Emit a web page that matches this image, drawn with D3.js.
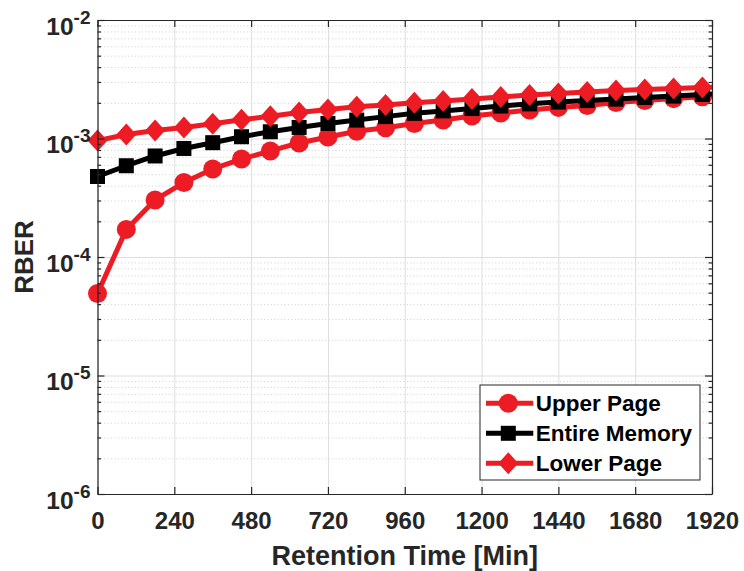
<!DOCTYPE html>
<html>
<head>
<meta charset="utf-8">
<script src="https://cdn.jsdelivr.net/npm/d3@7"></script>
<style>
  body { margin: 0; background: #fff; }
  svg { display: block; }
  text { font-family: "Liberation Sans", Arial, Helvetica, sans-serif; font-weight: bold; }
</style>
</head>
<body>
<svg id="chart" width="744" height="571"></svg>
<script>
// Retention time (minutes) at which RBER was sampled
const retentionMin = [0, 90, 180, 270, 360, 450, 540, 630, 720, 810, 900, 990,
  1080, 1170, 1260, 1350, 1440, 1530, 1620, 1710, 1800, 1890, 1980];

// Raw bit error rate per page type
const upperPage = [4.92e-5, 1.71e-4, 3.03e-4, 4.25e-4, 5.53e-4, 6.71e-4, 7.85e-4, 9.17e-4,
  1.03e-3, 1.15e-3, 1.23e-3, 1.34e-3, 1.43e-3, 1.55e-3, 1.64e-3, 1.74e-3, 1.83e-3,
  1.90e-3, 2.01e-3, 2.09e-3, 2.17e-3, 2.25e-3, 2.31e-3];
const entireMemory = [4.78e-4, 5.89e-4, 7.12e-4, 8.24e-4, 9.22e-4, 1.035e-3, 1.14e-3, 1.24e-3,
  1.34e-3, 1.43e-3, 1.53e-3, 1.63e-3, 1.71e-3, 1.79e-3, 1.88e-3, 1.96e-3, 2.03e-3,
  2.09e-3, 2.15e-3, 2.22e-3, 2.28e-3, 2.35e-3, 2.41e-3];
const lowerPage = [9.6e-4, 1.08e-3, 1.17e-3, 1.24e-3, 1.33e-3, 1.44e-3, 1.54e-3, 1.66e-3,
  1.76e-3, 1.85e-3, 1.92e-3, 2.0e-3, 2.07e-3, 2.15e-3, 2.24e-3, 2.33e-3, 2.40e-3,
  2.47e-3, 2.54e-3, 2.59e-3, 2.64e-3, 2.69e-3, 2.74e-3];

const seriesNames = ["Upper Page", "Entire Memory", "Lower Page"];
const xTickValues = [0, 240, 480, 720, 960, 1200, 1440, 1680, 1920];
const yDecadeExponents = [-6, -5, -4, -3, -2];
const xDomain = [0, 1920];
const yDomain = [1e-6, 1e-2];

// ---- layout ----
const plot = { left: 97.5, right: 712, top: 20, bottom: 494 };
const axisColor = "#262626";
const red = "#ED1C24";

const svg = d3.select("#chart");
const x = d3.scaleLinear().domain(xDomain).range([plot.left, plot.right]);
const y = d3.scaleLog().domain(yDomain).range([plot.bottom, plot.top]);

const decades = yDecadeExponents.map(e => Math.pow(10, e));
const minorY = [];
for (let e = -6; e < -2; e++) for (let k = 2; k <= 9; k++) minorY.push(k * Math.pow(10, e));

const pw = plot.right - plot.left, ph = plot.bottom - plot.top;

// ---- grid ----
const grid = svg.append("g");
grid.append("g").attr("transform", `translate(${plot.left},0)`)
  .call(d3.axisLeft(y).tickValues(minorY).tickSize(-pw).tickFormat(""))
  .call(g => g.select(".domain").remove())
  .call(g => g.selectAll("line").attr("stroke", "#cfcfcf").attr("stroke-width", 1)
    .attr("stroke-dasharray", "1,2.4"));
grid.append("g").attr("transform", `translate(${plot.left},0)`)
  .call(d3.axisLeft(y).tickValues(decades).tickSize(-pw).tickFormat(""))
  .call(g => g.select(".domain").remove())
  .call(g => g.selectAll("line").attr("stroke", "#dedede").attr("stroke-width", 1));
grid.append("g").attr("transform", `translate(0,${plot.bottom})`)
  .call(d3.axisBottom(x).tickValues(xTickValues).tickSize(-ph).tickFormat(""))
  .call(g => g.select(".domain").remove())
  .call(g => g.selectAll("line").attr("stroke", "#dedede").attr("stroke-width", 1));

// ---- series ----
svg.append("defs").append("clipPath").attr("id", "plotClip")
  .append("rect").attr("x", plot.left).attr("y", plot.top).attr("width", pw).attr("height", ph);

const series = [
  { name: seriesNames[0], values: upperPage, color: red, marker: "circle" },
  { name: seriesNames[1], values: entireMemory, color: "#000", marker: "square" },
  { name: seriesNames[2], values: lowerPage, color: red, marker: "diamond" }
];

const line = d3.line().x(d => x(d.t)).y(d => y(d.v));

function drawMarker(g, type, cx, cy, color) {
  if (type === "circle") {
    g.append("circle").attr("cx", cx).attr("cy", cy).attr("r", 9.5).attr("fill", color);
  } else if (type === "square") {
    g.append("rect").attr("x", cx - 7.5).attr("y", cy - 7.5).attr("width", 15).attr("height", 15).attr("fill", color);
  } else {
    g.append("path").attr("d", `M${cx},${cy - 11}L${cx + 10},${cy}L${cx},${cy + 11}L${cx - 10},${cy}Z`).attr("fill", color);
  }
}

series.forEach(s => {
  const pts = retentionMin.map((t, i) => ({ t, v: s.values[i] }));
  const g = svg.append("g");
  g.append("path").datum(pts).attr("d", line).attr("fill", "none")
    .attr("stroke", s.color).attr("stroke-width", 5).attr("stroke-linejoin", "round")
    .attr("clip-path", "url(#plotClip)");
  pts.filter(p => p.t >= xDomain[0] && p.t <= xDomain[1])
    .forEach(p => drawMarker(g, s.marker, x(p.t), y(p.v), s.color));
});

// ---- axes (box with inward ticks) ----
function styleAxis(g) {
  g.selectAll(".domain").attr("stroke", axisColor).attr("stroke-width", 1.2);
  g.selectAll(".tick line").attr("stroke", axisColor).attr("stroke-width", 1.2);
}
// bottom
svg.append("g").attr("transform", `translate(0,${plot.bottom})`)
  .call(d3.axisBottom(x).tickValues(xTickValues).tickSizeInner(-7).tickSizeOuter(0).tickPadding(17.5).tickFormat(d3.format("d")))
  .call(styleAxis)
  .call(g => g.selectAll(".tick text").attr("fill", axisColor).attr("font-size", 24));
// top
svg.append("g").attr("transform", `translate(0,${plot.top})`)
  .call(d3.axisTop(x).tickValues(xTickValues).tickSizeInner(-7).tickSizeOuter(0).tickFormat(""))
  .call(styleAxis);
// left major with 10^n labels
svg.append("g").attr("transform", `translate(${plot.left},0)`)
  .call(d3.axisLeft(y).tickValues(decades).tickSizeInner(-7).tickSizeOuter(0).tickPadding(7).tickFormat(""))
  .call(styleAxis)
  .call(g => g.selectAll(".tick text").each(function (d) {
    const t = d3.select(this).attr("fill", axisColor).attr("font-size", 24.5).attr("dy", 14);
    t.append("tspan").text("10");
    t.append("tspan").attr("dy", -11).attr("font-size", 19).text(String(Math.round(Math.log10(d))));
  }));
// left minor
svg.append("g").attr("transform", `translate(${plot.left},0)`)
  .call(d3.axisLeft(y).tickValues(minorY).tickSizeInner(-3.5).tickSizeOuter(0).tickFormat(""))
  .call(styleAxis).call(g => g.select(".domain").remove());
// right
svg.append("g").attr("transform", `translate(${plot.right},0)`)
  .call(d3.axisRight(y).tickValues(decades).tickSizeInner(-7).tickSizeOuter(0).tickFormat(""))
  .call(styleAxis);
svg.append("g").attr("transform", `translate(${plot.right},0)`)
  .call(d3.axisRight(y).tickValues(minorY).tickSizeInner(-3.5).tickSizeOuter(0).tickFormat(""))
  .call(styleAxis).call(g => g.select(".domain").remove());

// ---- axis titles ----
svg.append("text").attr("x", (plot.left + plot.right) / 2).attr("y", 565)
  .attr("text-anchor", "middle").attr("font-size", 27).attr("fill", axisColor)
  .text("Retention Time [Min]");
svg.append("text").attr("transform", `translate(33,${(plot.top + plot.bottom) / 2}) rotate(-90)`)
  .attr("text-anchor", "middle").attr("font-size", 26).attr("fill", axisColor)
  .text("RBER");

// ---- legend ----
const lg = svg.append("g").attr("transform", "translate(480,385)");
lg.append("rect").attr("width", 220).attr("height", 95).attr("fill", "#fff")
  .attr("stroke", axisColor).attr("stroke-width", 1);
series.forEach((s, i) => {
  const cy = 18.3 + i * 30;
  lg.append("line").attr("x1", 6).attr("x2", 53.3).attr("y1", cy).attr("y2", cy)
    .attr("stroke", s.color).attr("stroke-width", 5);
  drawMarker(lg, s.marker, 28.3, cy, s.color);
  lg.append("text").attr("x", 55.7).attr("y", cy + 8).attr("font-size", 22.5).attr("fill", "#000").text(s.name);
});
</script>
</body>
</html>
